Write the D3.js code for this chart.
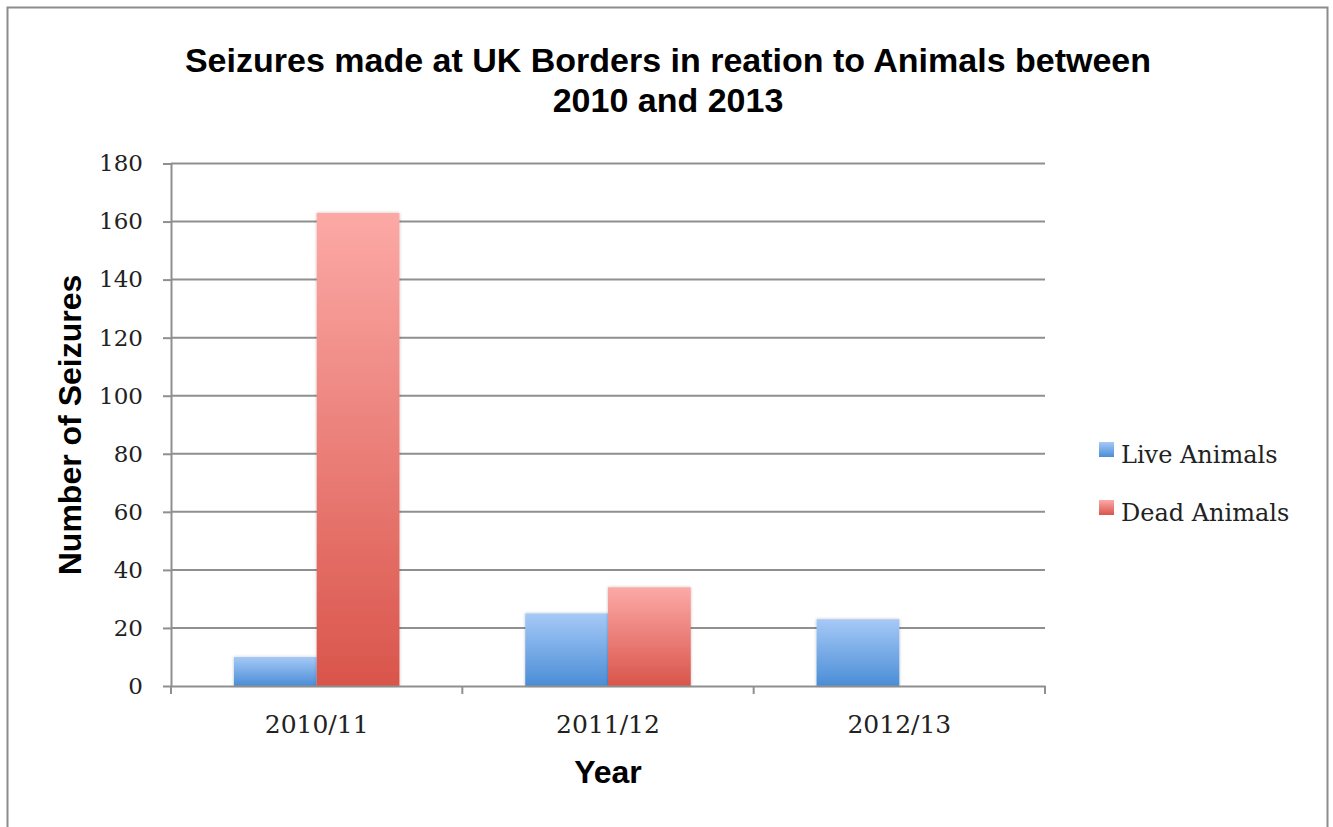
<!DOCTYPE html>
<html>
<head>
<meta charset="utf-8">
<script src="https://cdn.jsdelivr.net/npm/d3@7"></script>
<style>
  html, body { margin: 0; padding: 0; background: #fff; }
  svg { display: block; }
</style>
</head>
<body>
<svg id="chart" width="1333" height="827"></svg>
<script>
// Seizure counts per financial year
const years = ["2010/11", "2011/12", "2012/13"];
const seriesNames = ["Live Animals", "Dead Animals"];
const liveAnimals = [10, 25, 23];
const deadAnimals = [163, 34, 0];
const yTicks = [0, 20, 40, 60, 80, 100, 120, 140, 160, 180];

const titleLines = ["Seizures made at UK Borders in reation to Animals between", "2010 and 2013"];

const table = years.map((y, i) => ({ year: y, values: [liveAnimals[i], deadAnimals[i]] }));

const svg = d3.select("#chart");
const W = 1333, H = 827;
const margin = { left: 171, right: W - 1045, top: 163.5, bottom: H - 686 };
const serif = "'DejaVu Serif', 'Liberation Serif', serif";
const sans = "'Liberation Sans', Arial, sans-serif";

// Outer frame
svg.append("rect")
  .attr("x", 7.5).attr("y", 7.5)
  .attr("width", 1320).attr("height", 840)
  .attr("fill", "#fff").attr("stroke", "#8c8c8c").attr("stroke-width", 2);

const defs = svg.append("defs");
const gradStops = [
  [{ o: 0, c: "#a6c9f7" }, { o: 1, c: "#4a8dd6" }],
  [{ o: 0, c: "#fca9a6" }, { o: 1, c: "#d9554b" }]
];
gradStops.forEach((stops, k) => {
  const g = defs.append("linearGradient").attr("id", "grad" + k)
    .attr("x1", 0).attr("y1", 0).attr("x2", 0).attr("y2", 1);
  stops.forEach(s => g.append("stop").attr("offset", s.o).attr("stop-color", s.c));
});
const shadow = defs.append("filter").attr("id", "shadow")
  .attr("x", "-10%").attr("y", "-10%").attr("width", "120%").attr("height", "120%");
shadow.append("feDropShadow").attr("dx", 0).attr("dy", 0)
  .attr("stdDeviation", 1.5).attr("flood-color", "#000").attr("flood-opacity", 0.25);

const x0 = d3.scaleBand().domain(years)
  .range([margin.left, W - margin.right]).paddingInner(0).paddingOuter(0);
const x1 = d3.scaleBand().domain(seriesNames)
  .range([0, x0.bandwidth()]).paddingInner(0).paddingOuter(0.76);
const y = d3.scaleLinear().domain([0, 180]).range([H - margin.bottom, margin.top]);

// Horizontal gridlines
svg.append("g")
  .selectAll("line").data(yTicks.filter(t => t > 0)).join("line")
  .attr("x1", margin.left).attr("x2", W - margin.right)
  .attr("y1", d => y(d)).attr("y2", d => y(d))
  .attr("stroke", "#8f8f8f").attr("stroke-width", 2);

// Y axis
const yAxis = svg.append("g")
  .attr("transform", `translate(${margin.left},0)`)
  .call(d3.axisLeft(y).tickValues(yTicks).tickSize(8).tickPadding(20).tickSizeOuter(0));
yAxis.select(".domain").attr("stroke", "#8f8f8f").attr("stroke-width", 2);
yAxis.selectAll(".tick line").attr("stroke", "#8f8f8f").attr("stroke-width", 2);
yAxis.selectAll(".tick text")
  .attr("font-family", serif)
  .attr("font-size", 23).attr("fill", "#222");

// Bars
const groups = svg.append("g").selectAll("g").data(table).join("g")
  .attr("transform", d => `translate(${x0(d.year)},0)`);
groups.selectAll("rect")
  .data(d => d.values.map((v, k) => ({ v, k })).filter(e => e.v > 0))
  .join("rect")
  .attr("x", e => x1(seriesNames[e.k]))
  .attr("width", x1.bandwidth())
  .attr("y", e => y(e.v))
  .attr("height", e => y(0) - y(e.v))
  .attr("fill", e => `url(#grad${e.k})`)
  .attr("filter", "url(#shadow)");

// X axis
const xAxis = svg.append("g")
  .attr("transform", `translate(0,${H - margin.bottom})`)
  .call(d3.axisBottom(x0).tickSize(0).tickPadding(29).tickSizeOuter(0));
xAxis.select(".domain").attr("stroke", "#8f8f8f").attr("stroke-width", 2);
xAxis.selectAll(".tick text")
  .attr("font-family", serif)
  .attr("font-size", 25).attr("fill", "#222");
// Category separator ticks on the x axis
svg.append("g").selectAll("line")
  .data(years.map(yv => x0(yv)).concat([x0(years[years.length - 1]) + x0.bandwidth()]))
  .join("line")
  .attr("x1", d => d).attr("x2", d => d)
  .attr("y1", y(0)).attr("y2", y(0) + 8)
  .attr("stroke", "#8f8f8f").attr("stroke-width", 2);

// Title
svg.append("text")
  .attr("text-anchor", "middle")
  .attr("font-family", sans)
  .attr("font-weight", "bold").attr("font-size", 34).attr("fill", "#000")
  .selectAll("tspan").data(titleLines).join("tspan")
  .attr("x", 668).attr("y", (d, i) => 72 + i * 40)
  .text(d => d);

// Axis titles
svg.append("text")
  .attr("transform", "translate(81,425) rotate(-90)")
  .attr("text-anchor", "middle")
  .attr("font-family", sans)
  .attr("font-weight", "bold").attr("font-size", 32).attr("fill", "#000")
  .text("Number of Seizures");

svg.append("text")
  .attr("x", 608).attr("y", 783)
  .attr("text-anchor", "middle")
  .attr("font-family", sans)
  .attr("font-weight", "bold").attr("font-size", 32).attr("fill", "#000")
  .text("Year");

// Legend
const legend = svg.append("g").selectAll("g").data(seriesNames).join("g")
  .attr("transform", (d, i) => `translate(1099,${454 + i * 58})`);
legend.append("rect")
  .attr("x", 0).attr("y", -12).attr("width", 15).attr("height", 15)
  .attr("fill", (d, i) => `url(#grad${i})`);
legend.append("text")
  .attr("x", 22).attr("y", 9)
  .attr("font-family", serif)
  .attr("font-size", 24).attr("fill", "#222")
  .text(d => d);
</script>
</body>
</html>
